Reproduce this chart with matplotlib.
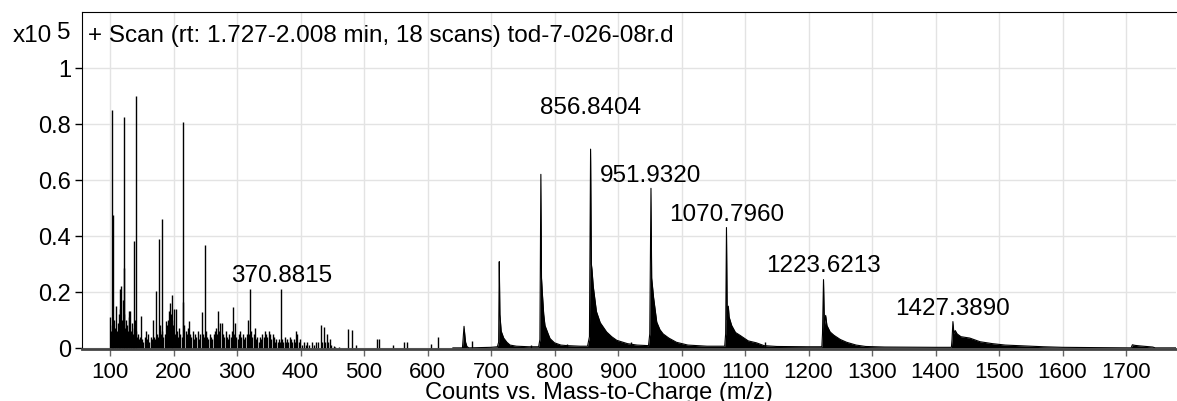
import matplotlib
matplotlib.use("Agg")
import matplotlib.pyplot as plt

plt.rcParams["font.family"] = ["Liberation Sans", "DejaVu Sans"]

# sticks of the low-mass region (m/z, intensity x10^5)
stick_mz = [100.5, 101.5, 102.6, 103.5, 104.7, 105.5, 106.5, 107.5, 108.5, 109.4,
            110.5, 111.5, 112.5, 113.5, 114.5, 115.7, 116.5, 117.5, 118.5, 119.5,
            120.5, 121.5, 122.0, 122.8, 123.5, 124.5, 125.5, 126.5, 127.5, 128.5,
            129.5, 130.5, 131.5, 132.5, 133.5, 134.5, 135.5, 136.5, 137.5, 138.3,
            139.5, 140.4, 141.3, 142.5, 143.5, 145.5, 147.5, 148.8, 150.5, 152.5,
            154.5, 156.0, 158.0, 160.0, 162.0, 164.0, 166.0, 167.0, 169.0, 170.5,
            172.0, 173.5, 175.0, 177.2, 178.5, 180.0, 181.4, 182.5, 184.0, 186.0,
            187.8, 189.0, 190.5, 192.0, 193.5, 194.5, 196.0, 197.0, 198.0, 199.5,
            201.0, 202.5, 204.0, 205.5, 207.0, 209.0, 211.0, 213.0, 214.5, 215.5,
            217.0, 219.0, 221.0, 223.0, 224.0, 226.0, 228.0, 230.0, 232.0, 234.0,
            236.0, 238.0, 240.0, 242.0, 244.4, 246.0, 248.0, 250.0, 251.5, 253.0,
            255.0, 257.0, 259.0, 261.0, 263.0, 265.0, 267.0, 268.5, 270.0, 272.0,
            273.5, 276.0, 278.0, 280.0, 282.0, 284.0, 286.0, 288.0, 290.0, 292.0,
            294.0, 296.0, 297.5, 299.0, 301.0, 303.0, 305.0, 307.0, 309.0, 311.0,
            313.0, 315.0, 316.8, 318.5, 320.5, 322.0, 324.0, 326.0, 328.0, 330.0,
            332.0, 334.0, 336.0, 338.0, 340.0, 342.0, 344.0, 346.0, 348.0, 350.0,
            352.0, 354.0, 356.0, 358.0, 360.0, 362.0, 364.0, 366.0, 368.0, 369.8,
            371.5, 373.0, 375.0, 377.0, 379.0, 381.0, 383.0, 385.0, 387.0, 389.0,
            391.0, 393.0, 395.0, 397.0, 399.0, 402.0, 405.0, 408.0, 411.0, 414.0,
            418.0, 421.0, 424.0, 427.0, 432.0, 434.0, 437.0, 439.0, 442.0, 444.0,
            446.0, 448.0, 452.0, 455.0, 460.0, 475.3, 480.5, 487.0, 520.0, 524.0,
            546.0, 563.0, 568.0, 605.0, 617.0, 669.6, 763.0, 820.0, 919.8, 1131.5]
stick_int = [0.11, 0.06, 0.85, 0.08, 0.475, 0.05, 0.10, 0.04, 0.07, 0.15,
             0.06, 0.03, 0.09, 0.05, 0.12, 0.21, 0.14, 0.22, 0.10, 0.08,
             0.17, 0.285, 0.824, 0.12, 0.07, 0.10, 0.05, 0.04, 0.08, 0.06,
             0.13, 0.11, 0.13, 0.04, 0.06, 0.09, 0.05, 0.03, 0.07, 0.383,
             0.10, 0.899, 0.06, 0.04, 0.05, 0.03, 0.04, 0.115, 0.03, 0.02,
             0.04, 0.06, 0.03, 0.05, 0.02, 0.04, 0.03, 0.10, 0.04, 0.03,
             0.205, 0.05, 0.04, 0.39, 0.08, 0.05, 0.46, 0.06, 0.04, 0.05,
             0.095, 0.06, 0.08, 0.10, 0.13, 0.16, 0.12, 0.10, 0.19, 0.08,
             0.14, 0.05, 0.14, 0.06, 0.04, 0.07, 0.05, 0.04, 0.806, 0.165,
             0.08, 0.06, 0.05, 0.07, 0.095, 0.05, 0.04, 0.06, 0.03, 0.05,
             0.04, 0.06, 0.03, 0.05, 0.128, 0.05, 0.04, 0.368, 0.06, 0.04,
             0.03, 0.05, 0.04, 0.03, 0.05, 0.06, 0.07, 0.05, 0.13, 0.06,
             0.09, 0.09, 0.05, 0.04, 0.06, 0.04, 0.03, 0.05, 0.04, 0.06,
             0.145, 0.05, 0.09, 0.04, 0.03, 0.05, 0.06, 0.04, 0.05, 0.03,
             0.04, 0.05, 0.10, 0.05, 0.21, 0.06, 0.04, 0.05, 0.07, 0.03,
             0.04, 0.02, 0.04, 0.03, 0.05, 0.04, 0.06, 0.05, 0.04, 0.06,
             0.05, 0.03, 0.05, 0.04, 0.02, 0.03, 0.02, 0.03, 0.02, 0.21,
             0.03, 0.02, 0.04, 0.02, 0.03, 0.02, 0.04, 0.03, 0.02, 0.03,
             0.02, 0.06, 0.05, 0.02, 0.03, 0.01, 0.02, 0.01, 0.02, 0.01,
             0.02, 0.01, 0.02, 0.02, 0.08, 0.02, 0.075, 0.02, 0.05, 0.02,
             0.03, 0.01, 0.005, 0.004, 0.003, 0.068, 0.065, 0.012, 0.03, 0.03,
             0.01, 0.02, 0.022, 0.015, 0.04, 0.025, 0.012, 0.015, 0.02, 0.02]

# charge-state envelopes (profile, m/z and intensity x10^5)
prof_mz = [640, 655, 656, 657.5, 659, 660, 662, 665, 700, 710,
           712, 713, 714, 716, 720, 725, 730, 740, 760, 775,
           777, 778.5, 779.5, 781, 783, 785, 790, 793, 800, 810,
           820, 840, 852, 855, 856.8, 858, 859, 861, 866, 872,
           882, 890, 898, 915, 930, 948, 950, 951.9, 953, 956,
           961, 966, 971, 980, 992, 1010, 1040, 1068, 1069.5, 1070.8,
           1072, 1073.7, 1075, 1079, 1085, 1092, 1105, 1118, 1130, 1150,
           1200, 1221, 1222, 1223.6, 1225, 1227, 1229, 1234, 1240, 1250,
           1260, 1275, 1290, 1320, 1400, 1425, 1426, 1427.4, 1429, 1431,
           1434, 1440, 1454, 1470, 1490, 1510, 1540, 1570, 1600, 1650,
           1708, 1710, 1714, 1722, 1732, 1742, 1746, 1780]
prof_int = [0.0, 0.0, 0.03, 0.077, 0.04, 0.02, 0.005, 0.0, 0.002, 0.004,
            0.02, 0.308, 0.12, 0.06, 0.035, 0.02, 0.01, 0.006, 0.004, 0.004,
            0.03, 0.62, 0.25, 0.19, 0.12, 0.08, 0.05, 0.033, 0.018, 0.01,
            0.008, 0.006, 0.006, 0.04, 0.71, 0.30, 0.28, 0.22, 0.13, 0.09,
            0.057, 0.04, 0.027, 0.015, 0.01, 0.008, 0.05, 0.57, 0.25, 0.18,
            0.092, 0.065, 0.05, 0.035, 0.02, 0.01, 0.006, 0.006, 0.05, 0.43,
            0.10, 0.149, 0.11, 0.08, 0.055, 0.045, 0.025, 0.018, 0.008, 0.005,
            0.004, 0.004, 0.05, 0.244, 0.08, 0.116, 0.08, 0.057, 0.045, 0.03,
            0.02, 0.01, 0.005, 0.003, 0.002, 0.002, 0.03, 0.094, 0.05, 0.062,
            0.05, 0.04, 0.035, 0.022, 0.015, 0.01, 0.007, 0.004, 0.002, 0.001,
            0.0, 0.011, 0.009, 0.007, 0.005, 0.003, 0.0, 0.0]

# labelled peaks: m/z, label height
label_mz = [370.8815, 856.8404, 951.9320, 1070.7960, 1223.6213, 1427.3890]
label_y = [0.24, 0.84, 0.595, 0.458, 0.273, 0.121]

W, H = 1177, 402
fig = plt.figure(figsize=(W / 100, H / 100), dpi=100)
ax = fig.add_axes([82 / W, 1 - 350 / H, (1176 - 82) / W, (350 - 13) / H])

ax.vlines(stick_mz, 0, stick_int, color="black", lw=1.0)
ax.fill_between(prof_mz, prof_int, 0, color="black", lw=0)
ax.plot(prof_mz, prof_int, color="black", lw=0.8)

for mz, yy in zip(label_mz, label_y):
    ax.text(mz, yy, f"{mz:.4f}", ha="center", va="baseline", fontsize=17.5)

ax.text(6 / (1176 - 82), 1 - (41.7 - 13) / (350 - 13),
        "+ Scan (rt: 1.727-2.008 min, 18 scans) tod-7-026-08r.d",
        transform=ax.transAxes, ha="left", va="baseline", fontsize=17.5)

ax.set_xlim(55.9, 1778.7)
ax.set_ylim(-0.004, 1.2)
ax.set_xticks(range(100, 1800, 100))
ax.set_yticks([0, 0.2, 0.4, 0.6, 0.8, 1.0])
ax.set_yticklabels(["0", "0.2", "0.4", "0.6", "0.8", "1"])
ax.tick_params(axis="both", labelsize=16, length=5, width=1, color="#666666")
ax.tick_params(axis="y", pad=3, color="black", labelsize=17)
ax.tick_params(axis="x", pad=4)
ax.grid(True, color="#e3e3e3", lw=1)
ax.set_axisbelow(True)

ax.spines["right"].set_visible(False)
ax.spines["left"].set_color("black")
ax.spines["top"].set_color("black")
ax.spines["bottom"].set_color("#444444")
ax.spines["bottom"].set_linewidth(2)

fig.text(13 / W, 1 - 42 / H, "x10", ha="left", va="baseline", fontsize=17.5)
fig.text(57 / W, 1 - 39 / H, "5", ha="left", va="baseline", fontsize=17.5)
fig.text(599 / W, 1 - 399 / H, "Counts vs. Mass-to-Charge (m/z)",
         ha="center", va="baseline", fontsize=17)

fig.savefig("out.png", dpi=100)
